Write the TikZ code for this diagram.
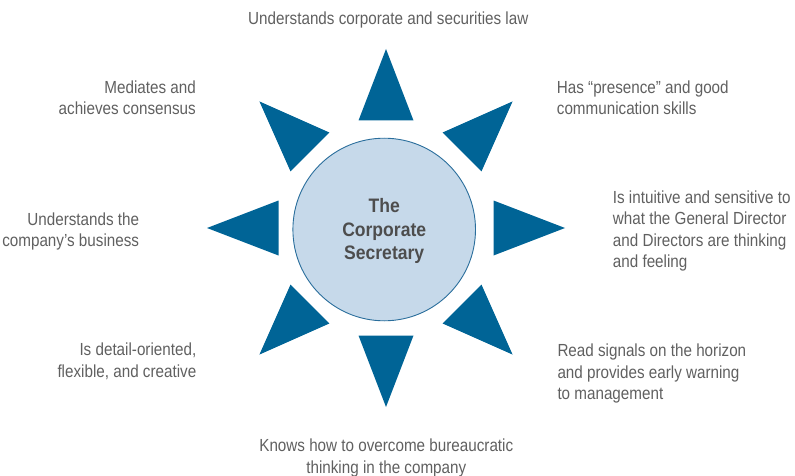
\documentclass[tikz,border=0pt]{standalone}
\usepackage{fontspec}
\setmainfont{Liberation Sans}
\newfontfamily\labfont[FakeStretch=0.87]{Liberation Sans}
\newfontfamily\ctrfont[FakeStretch=0.9]{Liberation Sans}
\definecolor{triblue}{HTML}{006496}
\definecolor{circfill}{HTML}{C6D9EA}
\definecolor{circline}{HTML}{2A6E9C}
\definecolor{labgray}{HTML}{606060}
\definecolor{ctrgray}{HTML}{4D4D4D}
\begin{document}
\begin{tikzpicture}[x=1pt,y=-1pt,
  tri/.style={fill=triblue},
  lab/.style={inner sep=0pt,text=labgray,font=\labfont\fontsize{17.5}{21.5}\selectfont},
  labR/.style={lab,align=right,anchor=base east},
  labL/.style={lab,align=left,anchor=base west},
  labC/.style={lab,align=center,anchor=base},
  ctr/.style={circle,minimum size=182.6pt,inner sep=0pt,fill=circfill,draw=circline,line width=0.9pt}]
\useasboundingbox (0,0) rectangle (795,476);
\coordinate (C) at (386,228);
\foreach \a in {0,45,...,315}{
  \fill[tri,shift={(C)},rotate=\a] (107.5,-27.5) -- (107.5,27.5) -- (179,0) -- cycle;
}
\node[ctr] (sec) at (384.2,229.5) {};
\node[inner sep=0pt,anchor=base,align=center,text=ctrgray,font=\ctrfont\bfseries\fontsize{19.5}{23.8}\selectfont] (sect) at (384.2,259.9) {The\\Corporate\\Secretary};
\node[labC] (t1) at (388.3,25) {Understands corporate and securities law};
\node[labL] (t2) at (556.7,114.8) {Has “presence” and good\\communication skills};
\node[labL] (t3) at (612.7,267.8) {Is intuitive and sensitive to\\what the General Director\\and Directors are thinking\\and feeling};
\node[labL] (t4) at (557.3,399.7) {Read signals on the horizon\\and provides early warning\\to management};
\node[labC] (t5) at (386.3,473.2) {Knows how to overcome bureaucratic\\thinking in the company};
\node[labR] (t6) at (196.5,377) {Is detail-oriented,\\flexible, and creative};
\node[labR] (t7) at (139.3,246.5) {Understands the\\company’s business};
\node[labR] (t8) at (196,114.6) {Mediates and\\achieves consensus};
\end{tikzpicture}
\end{document}
